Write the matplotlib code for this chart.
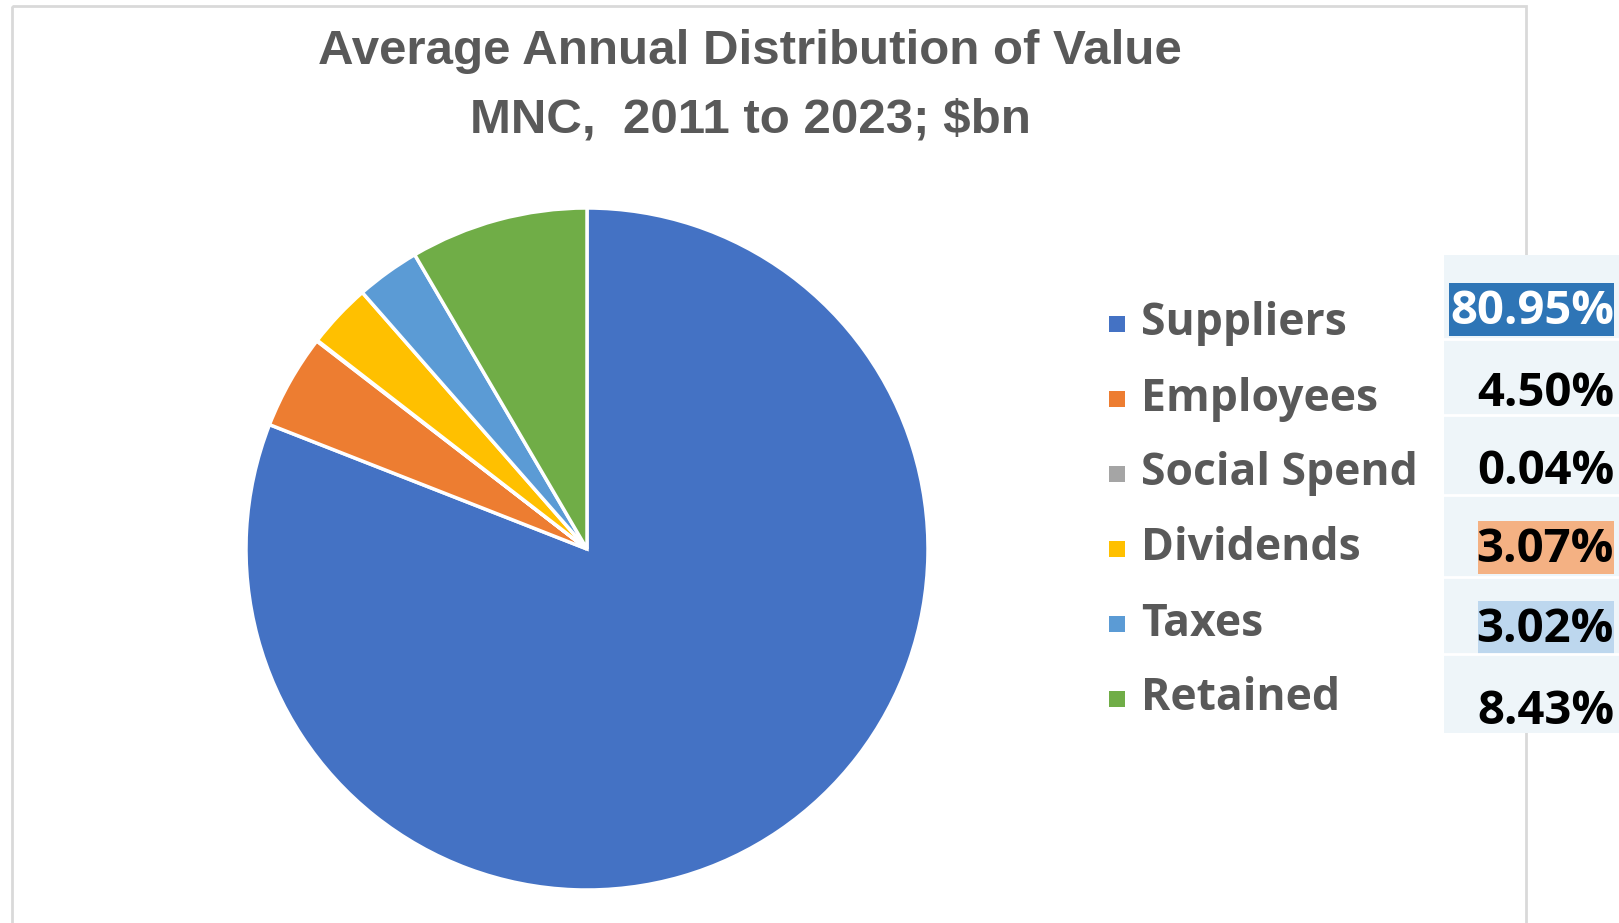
import matplotlib
matplotlib.use("Agg")
import matplotlib.pyplot as plt
from matplotlib.patches import Rectangle

labels = ['Suppliers', 'Employees', 'Social Spend', 'Dividends', 'Taxes', 'Retained']
shares = [80.95, 4.50, 0.04, 3.07, 3.02, 8.43]
value_text = ['80.95%', '4.50%', '0.04%', '3.07%', '3.02%', '8.43%']
colors = ['#4472C4', '#ED7D31', '#A5A5A5', '#FFC000', '#5B9BD5', '#70AD47']
cell_fill = ['#2E75B6', None, None, '#F4B183', '#BDD7EE', None]
cell_text = ['white', 'black', 'black', 'black', 'black', 'black']

W, H = 1619, 923
fig = plt.figure(figsize=(W / 100, H / 100), dpi=100)

# overlay in pixel coordinates for frame, title and table
ov = fig.add_axes([0, 0, 1, 1])
ov.set_xlim(0, W)
ov.set_ylim(H, 0)
ov.axis('off')

ov.add_patch(Rectangle((12, 6), 1514, 940, fill=False, ec='#d9d9d9', lw=2))

title_font = ['Liberation Sans', 'DejaVu Sans']
ov.text(750, 52, 'Average Annual Distribution of Value', ha='center', va='center',
        fontsize=35.5, fontweight='bold', color='#595959', family=title_font)
ov.text(750, 120, 'MNC,  2011 to 2023; $bn', ha='center', va='center',
        fontsize=35.5, fontweight='bold', color='#595959', family=title_font)

# pie
ax = fig.add_axes([246 / W, 33 / H, 682 / W, 682 / H])
ax.pie(shares, colors=colors, startangle=90, counterclock=False,
       wedgeprops=dict(edgecolor='white', linewidth=2.5))
ax.set_xlim(-1.0, 1.0)
ax.set_ylim(-1.0, 1.0)
ax.set_aspect('equal')

# legend column and value table
edges = [255, 339, 415, 495, 577, 654, 733]
val_y = [310, 391, 470, 548, 628, 709]
ov.add_patch(Rectangle((1444, 255), 175, 478, color='#EEF5F9', lw=0))
for i in range(len(labels)):
    ly = 324 + 75 * i
    vy = val_y[i]
    if i > 0:
        ov.plot([1444, W], [edges[i], edges[i]], color='white', lw=2)
    ov.plot(1117, ly, marker='s', ms=11, color=colors[i], mew=0)
    ov.text(1141, ly, labels[i], ha='left', va='center', fontsize=32,
            fontweight='bold', color='#595959', family='Open Sans')
    if cell_fill[i]:
        x0 = 1449 if i == 0 else 1478
        ov.add_patch(Rectangle((x0, vy - 27), 1614 - x0, 53, color=cell_fill[i], lw=0))
    ov.text(1614, vy + 2, value_text[i], ha='right', va='center', fontsize=34,
            fontweight='bold', color=cell_text[i], family='Open Sans')

fig.savefig('out.png', dpi=100)
